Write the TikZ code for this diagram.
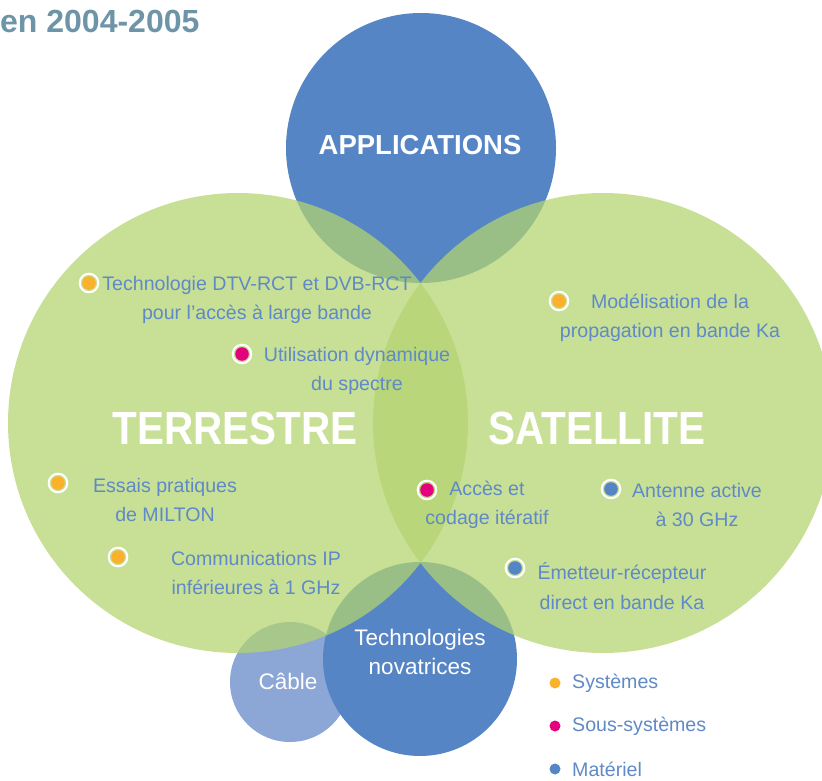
\documentclass[tikz,border=0pt]{standalone}
\usepackage{fontspec}
\setmainfont{Liberation Sans}
\newfontfamily\narrowfont[FakeStretch=0.87]{Liberation Sans}

\definecolor{appblue}{RGB}{85,133,197}
\definecolor{cableblue}{RGB}{140,166,213}
\definecolor{zonegreen}{RGB}{179,212,111}
\definecolor{textblue}{RGB}{95,137,199}
\definecolor{titlegray}{RGB}{110,148,168}
\definecolor{sysorange}{RGB}{251,177,43}
\definecolor{subpink}{RGB}{229,0,125}

\begin{document}
\begin{tikzpicture}[x=1pt, y=-1pt, every node/.style={inner sep=0pt, text=textblue, font=\fontsize{19.6}{29.5}\selectfont},
	item/.style={align=center},
	bigword/.style={text=white, font=\narrowfont\bfseries\fontsize{46.5}{46.5}\selectfont},
	circword/.style={text=white, align=center, font=\fontsize{22.5}{29}\selectfont}]
	\useasboundingbox (0,0) rectangle (822,781);

	\node[anchor=base west, text=titlegray, font=\bfseries\fontsize{32}{32}\selectfont] (title) at (0,33) {en 2004-2005};

	% blue circles first, the green ones lie over them
	\fill[cableblue] (290,682) circle (60);
	\fill[appblue] (420,659) circle (97);
	\fill[appblue] (421,148) circle (135);
	\fill[zonegreen, fill opacity=0.73] (238,423) circle (230);
	\fill[zonegreen, fill opacity=0.73] (603,423) circle (230);

	\node[text=white, font=\bfseries\fontsize{27.5}{27.5}\selectfont] (apps) at (420,145) {APPLICATIONS};
	\node[bigword] (terre) at (235,428) {TERRESTRE};
	\node[bigword] (sat) at (597,428) {SATELLITE};
	\node[circword] (novat) at (420,652) {Technologies\\novatrices};
	\node[circword] (cable) at (288,681) {Câble};

	% ringed dots in front of each item
	\foreach \x/\y/\col in {89/283/sysorange, 242/354/subpink, 559/301/sysorange, 58/483/sysorange, 118/557/sysorange, 427/490/subpink, 611/489/appblue, 515/568/appblue} {
		\draw[white, line width=2pt] (\x,\y) circle (9.3);
		\fill[\col] (\x,\y) circle (6.8);
	}
	\foreach \i/\x/\y/\txt in {1/257/300/{Technologie DTV-RCT et DVB-RCT\\pour l'accès à large bande}, 2/357/371/{Utilisation dynamique\\du spectre}, 3/670/318/{Modélisation de la\\propagation en bande Ka}, 4/165/500/{Essais pratiques\\de MILTON}, 5/256/573/{Communications IP\\inférieures à 1 GHz}, 6/487/505/{Accès et\\codage itératif}, 7/697/505/{Antenne active\\à 30 GHz}, 8/622/586/{Émetteur-récepteur\\direct en bande Ka}}
		\node[item] (item\i) at (\x,\y) {\txt};

	% legend
	\foreach \i/\y/\col/\lab in {1/683/sysorange/Systèmes, 2/726/subpink/Sous-systèmes, 3/769/appblue/Matériel} {
		\fill[\col] (555,\y) circle (5.5);
		\node[anchor=west] (key\i) at (572,\y) {\lab};
	}
\end{tikzpicture}
\end{document}
